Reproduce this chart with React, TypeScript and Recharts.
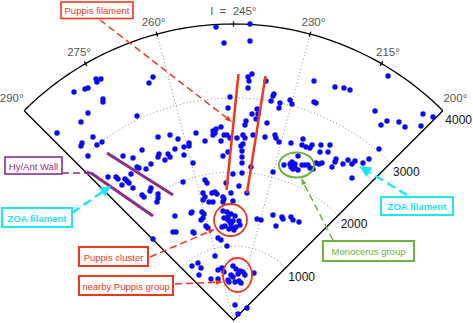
import React from "react";
import { ScatterChart, Scatter, XAxis, YAxis } from "recharts";

// galaxy positions projected on the plane, km/s (x toward l=200°, y toward l=245°)
const galX = [
  -236, 223, -128, 223, 250, 196, 209, 196, 439, 1088, 2088, 1372, 1493, 1574, 547, 534, 507, 628, 615, 764,
  791, 1088, 1115, -47, -74, -1858, -1791, -1845, -2155, -2007, -1966, -1088, -1142, -1764, -1764, -1966, -2061, -1304, -2385, -1899,
  -1777, -1845, -2047, -2061, -1966, 1912, 2074, 2236, 2318, 1993, 2534, 2561, 2696, 1966, -1020, -858, -750, -601, -601, -669,
  -791, -1236, -1493, -1358, -1007, -1020, -885, -858, -926, -669, -547, -1115, -507, -277, -250, -277, -169, -236, -385, -169,
  -128, -88, -47, 47, 128, 155, 169, 264, 101, 128, 115, 115, 115, -74, -142, 236, -7, 115, -385, -358,
  -101, 74, -34, -412, -385, -412, -291, -250, -223, -277, -331, -142, -128, -142, -7, 182, 318, 250, 331, 304,
  453, 155, 426, 561, 574, 615, 777, 980, 1034, 1061, 872, 682, 764, 791, 831, 804, 777, 831, 872, 804,
  966, 1007, 1034, 926, 1074, 534, 939, 926, 1182, 1304, 1169, 1277, 1115, 1155, 1196, 1385, 1372, 1331, 1480, 1547,
  1601, 1642, 1750, 1831, 1601, -1385, -1304, -1277, -1182, -1696, -1588, -1561, -1466, -1439, -1412, -1507, -1358, -1236, -1209, -1020,
  -1020, -1034, -1115, -1128, -682, -791, -574, -818, -777, -547, -1088, -142, -88, -128, -74, -34, 20, -74, -47, -7,
  74, -34, -20, -61, -115, -155, 34, 7, 88, -561, -426, -399, -412, -439, -372, -345, -534, -209, -169, -88,
  318, 372, 534, 655, 669, 777, 804, 885, 574, -250, -480, -439, -561, -466, -304, -155, -209, -128, -7, 34,
  88, 128, 155, 61, -7, -34, -74, -61, 20, 74, 101, -209, 277, 20, 182, 61,
];
const galY = [
  3959, 4000, 3743, 3770, 3324, 3284, 3230, 3135, 3230, 3230, 3297, 3149, 3135, 3108, 3054, 3027, 2959, 2932, 2865, 2973,
  2919, 2946, 2932, 3014, 2865, 3257, 3257, 3216, 3081, 3122, 3135, 3284, 3203, 2986, 2946, 2797, 2676, 2757, 2527, 2473,
  2405, 2365, 2392, 2351, 2216, 2824, 2689, 2676, 2608, 2635, 2622, 2784, 2743, 2311, 2473, 2500, 2446, 2392, 2351, 2338,
  2311, 2297, 2216, 2189, 2243, 2203, 2243, 2203, 2162, 2230, 2122, 2108, 2527, 2554, 2527, 2500, 2608, 2581, 2419, 2419,
  2500, 2500, 2459, 2459, 2500, 2635, 2689, 2500, 2351, 2378, 2284, 2203, 2122, 2270, 2216, 2068, 1973, 1986, 1892, 1851,
  1851, 1811, 1716, 1716, 1662, 1622, 1716, 1730, 1703, 1595, 1595, 1662, 1635, 1595, 1608, 1716, 2851, 2784, 2784, 2716,
  2662, 2459, 2473, 2500, 2459, 2405, 2392, 2338, 2324, 2365, 2216, 2095, 2108, 2135, 2108, 2081, 2068, 2054, 2027, 2041,
  2095, 2095, 2054, 2095, 2041, 2000, 2446, 2365, 2365, 2365, 2270, 2270, 2122, 2108, 2122, 2176, 2135, 2068, 2108, 2162,
  2108, 2149, 2122, 2176, 1919, 1973, 2068, 2054, 2041, 1932, 1932, 1905, 1905, 1878, 1851, 1824, 1784, 1689, 1662, 1703,
  1649, 1595, 1784, 1743, 1865, 1405, 1446, 1189, 1189, 1189, 1095, 1473, 1459, 1378, 1392, 1432, 1405, 1351, 1324, 1338,
  1338, 1297, 1243, 1230, 1270, 1257, 1257, 1216, 1284, 1459, 1459, 1432, 1378, 1351, 1270, 1243, 1176, 1108, 1081, 1000,
  1365, 1351, 1419, 1392, 1365, 1392, 1351, 1324, 1270, 865, 770, 703, 730, 608, 554, 703, 676, 649, 730, 689,
  662, 649, 608, 622, 581, 608, 541, 514, 514, 527, 500, 554, 635, 203, 162, 81,
];

const angleTicks = [290, 275, 260, 245, 230, 215, 200];
const gridLongitudes = [260, 230];
const velocityTicks = [1000, 2000, 3000, 4000];
const L_MIN = 200;
const L_MAX = 290;
const L_MID = 245;
const V_MAX = 4000;

const W = 473;
const H = 323;
const APEX_X = 233.5;
const APEX_Y = 320;
const PX_PER_KMS = 296 / V_MAX;

const FONT = "'Liberation Sans', Arial, sans-serif";
const RED = "#f2361f";
const PURPLE = "#8a2c8a";
const CYAN = "#1ee6f2";
const GREEN = "#6cb33f";

function polar(l: number, v: number) {
  const t = ((l - L_MID) * Math.PI) / 180;
  return { x: -v * Math.sin(t), y: v * Math.cos(t) };
}

function arc(v: number) {
  const pts = [];
  for (let l = L_MIN; l <= L_MAX; l += 1) pts.push(polar(l, v));
  return pts;
}

const galaxies = galX.map((x, i) => ({ x, y: galY[i] }));
const frame = [polar(L_MAX, V_MAX), { x: 0, y: 0 }, polar(L_MIN, V_MAX)];
const angleLabels = angleTicks.map((l) => ({
  ...polar(l, l === L_MIN || l === L_MAX ? 4240 : 4175),
  label: l === L_MID ? `l  =  ${l}°` : `${l}°`,
}));
const velocityLabels = velocityTicks.map((v) => ({ ...polar(L_MIN, v), label: String(v) }));

const none = () => <g />;

function Arrow({ x1, y1, x2, y2, color, width, dash, head, headW }: any) {
  const a = Math.atan2(y2 - y1, x2 - x1);
  const bx = x2 - head * Math.cos(a);
  const by = y2 - head * Math.sin(a);
  const px = -Math.sin(a) * headW / 2;
  const py = Math.cos(a) * headW / 2;
  return (
    <g>
      <line x1={x1} y1={y1} x2={bx} y2={by} stroke={color} strokeWidth={width} strokeDasharray={dash} />
      <polygon points={`${x2},${y2} ${bx + px},${by + py} ${bx - px},${by - py}`} fill={color} />
    </g>
  );
}

function Box({ x, y, w, h, color, text, bold, sw = 1.6 }: any) {
  return (
    <g>
      <rect x={x} y={y} width={w} height={h} fill="#fff" stroke={color} strokeWidth={sw} />
      <text x={x + w / 2} y={y + h / 2 + 0.5} textAnchor="middle" dominantBaseline="central"
        fontFamily={FONT} fontSize={9.5} fontWeight={bold ? 700 : 400} fill={color}>
        {text}
      </text>
    </g>
  );
}

function Annotations() {
  return (
    <svg width={W} height={H} style={{ position: "absolute", left: 0, top: 0, pointerEvents: "none" }}>
      {/* filaments */}
      <line x1={238.5} y1={74} x2={226.5} y2={190} stroke={RED} strokeWidth={2.5} />
      <line x1={265.5} y1={76} x2={247} y2={193} stroke={RED} strokeWidth={2.5} />
      <line x1={107} y1={153} x2={173} y2={195} stroke={PURPLE} strokeWidth={3} />
      <line x1={91} y1={173} x2={153} y2={216} stroke={PURPLE} strokeWidth={3} />
      {/* groups */}
      <ellipse cx={296.5} cy={165} rx={17.5} ry={12.5} fill="none" stroke={GREEN} strokeWidth={2} />
      <ellipse cx={230.5} cy={220} rx={16.5} ry={16} fill="none" stroke={RED} strokeWidth={1.8} />
      <ellipse cx={237.5} cy={275} rx={14.5} ry={17} fill="none" stroke={RED} strokeWidth={1.8} />
      {/* arrows */}
      <Arrow x1={100} y1={20} x2={232} y2={122} color={RED} width={1.5} dash="7 4" head={7} headW={5} />
      <Arrow x1={62} y1={173} x2={93} y2={173} color={PURPLE} width={1.5} dash="7 4" head={6} headW={5} />
      <Arrow x1={72} y1={213} x2={111} y2={186} color={CYAN} width={2.5} dash="9 5" head={11} headW={11} />
      <Arrow x1={407} y1={195} x2={359} y2={166} color={CYAN} width={2.5} dash="9 5" head={12} headW={11} />
      <Arrow x1={333} y1={240} x2={301} y2={178} color={GREEN} width={1.5} dash="7 4" head={7} headW={5} />
      <Arrow x1={150} y1={257} x2={215} y2={229} color={RED} width={1.5} dash="7 4" head={7} headW={5} />
      <Arrow x1={175} y1={284} x2={223} y2={282} color={RED} width={1.5} dash="7 4" head={7} headW={5} />
      {/* labels */}
      <Box x={61} y={2} w={72} h={16.5} color={RED} text="Puppis filament" />
      <Box x={5} y={157} w={57} h={17} color={PURPLE} text="Hy/Ant Wall" />
      <Box x={2} y={208} w={70} h={19} color={CYAN} text="ZOA filament" bold sw={2} />
      <Box x={381} y={197} w={72} h={18} color={CYAN} text="ZOA filament" bold sw={2} />
      <Box x={323} y={241} w={91} h={20} color={GREEN} text="Monocerus group" sw={2} />
      <Box x={79} y={247} w={69} h={19} color={RED} text="Puppis cluster" sw={2} />
      <Box x={79} y={276} w={94} h={19} color={RED} text="nearby Puppis group" sw={2} />
    </svg>
  );
}

export default function App() {
  return (
    <div style={{ position: "absolute", left: 0, top: 0, width: W, height: H, background: "#fff" }}>
      <ScatterChart width={W} height={H} margin={{ top: 0, right: 0, bottom: 0, left: 0 }}>
        <XAxis type="number" dataKey="x" hide allowDataOverflow
          domain={[-APEX_X / PX_PER_KMS, (W - APEX_X) / PX_PER_KMS]} />
        <YAxis type="number" dataKey="y" hide allowDataOverflow
          domain={[-(H - APEX_Y) / PX_PER_KMS, APEX_Y / PX_PER_KMS]} />
        {velocityTicks.slice(0, 3).map((v) => (
          <Scatter key={`a${v}`} data={arc(v)} shape={none} isAnimationActive={false}
            line={{ stroke: "#8c8c8c", strokeWidth: 1, strokeDasharray: "1 2.5" }} />
        ))}
        {gridLongitudes.map((l) => (
          <Scatter key={`r${l}`} data={[{ x: 0, y: 0 }, polar(l, V_MAX)]} shape={none} isAnimationActive={false}
            line={{ stroke: "#8c8c8c", strokeWidth: 1, strokeDasharray: "1 2.5" }} />
        ))}
        <Scatter data={arc(V_MAX)} shape={none} isAnimationActive={false}
          line={{ stroke: "#000", strokeWidth: 1.3 }} />
        <Scatter data={frame} shape={none} isAnimationActive={false}
          line={{ stroke: "#000", strokeWidth: 1.3 }} />
        {angleTicks.slice(1, -1).map((l) => (
          <Scatter key={`t${l}`} data={[polar(l, 3965), polar(l, 4035)]} shape={none} isAnimationActive={false}
            line={{ stroke: "#000", strokeWidth: 1.2 }} />
        ))}
        <Scatter data={galaxies} isAnimationActive={false}
          shape={(p: any) => <circle cx={p.cx} cy={p.cy} r={2.7} fill="#0a0af5" />} />
        <Scatter data={angleLabels} isAnimationActive={false}
          shape={(p: any) => (
            <text x={p.cx} y={p.cy} textAnchor="middle" dominantBaseline="central" fontFamily={FONT}
              fontSize={11.5} fill="#555" style={{ whiteSpace: "pre" }}>
              {p.payload.label}
            </text>
          )} />
        <Scatter data={velocityLabels} isAnimationActive={false}
          shape={(p: any) => (
            <text x={p.cx + 2.5} y={p.cy + 13} fontFamily={FONT} fontSize={12} fill="#111">
              {p.payload.label}
            </text>
          )} />
      </ScatterChart>
      <Annotations />
    </div>
  );
}
